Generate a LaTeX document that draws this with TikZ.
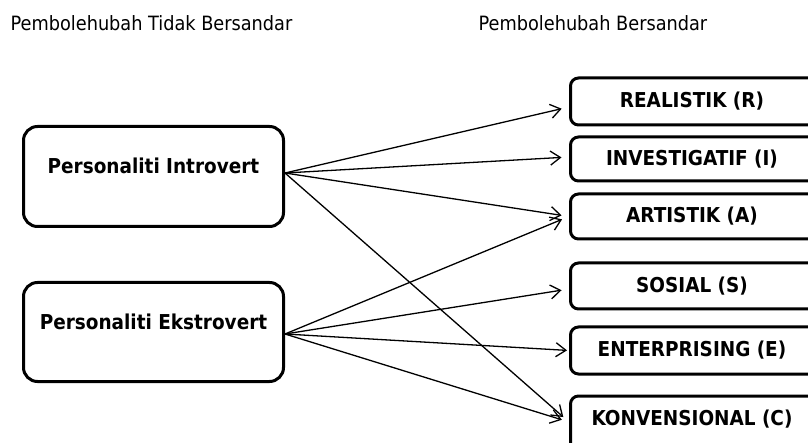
\documentclass[tikz,border=0pt]{standalone}
\usepackage{fontspec}
\setmainfont{DejaVu Sans Condensed}
\usetikzlibrary{arrows.meta}
\begin{document}
\begin{tikzpicture}[x=1pt,y=-1pt,
  lbox/.style={draw, line width=3pt, rounded corners=14pt, minimum width=260pt, minimum height=100pt, inner sep=0pt},
  rbox/.style={draw, line width=3pt, rounded corners=8pt, minimum width=270pt, minimum height=46pt, inner sep=0pt,
    font=\fontsize{20.5}{24}\selectfont\bfseries, text height=14.9pt, text depth=2pt},
  ltext/.style={font=\fontsize{20.5}{24}\selectfont\bfseries, inner sep=0pt, text height=14.9pt, text depth=0pt},
  head/.style={font=\fontsize{19.7}{24}\selectfont, inner sep=0pt, anchor=base west},
  conn/.style={line width=1.3pt, -{Straight Barb[length=10pt,width=14pt,line width=1.3pt]}, shorten >=7.5pt}
]
\newcommand\rtxt[1]{\hspace*{-27pt}#1}
\useasboundingbox (0,0) rectangle (808,443);
\clip (0,0) rectangle (808,443);
\fill[white] (0,0) rectangle (808,443);

\node[head] (h1) at (10.5,30.5) {Pembolehubah Tidak Bersandar};
\node[head] (h2) at (478.5,30.5) {Pembolehubah Bersandar};

\node[lbox] (intro) at (153.5,176.5) {};
\node[ltext] (introT) at ([yshift=10.5pt]intro.center) {Personaliti Introvert};
\node[lbox, minimum height=99pt] (ekstro) at (153.5,332) {};
\node[ltext] (ekstroT) at ([yshift=10pt]ekstro.center) {Personaliti Ekstrovert};

\node[rbox, minimum height=47pt] (R) at (705.5,101.5) {\rtxt{REALISTIK (R)}};
\node[rbox, minimum height=44pt] (I) at (705.5,159) {\rtxt{INVESTIGATIF (I)}};
\node[rbox, minimum height=45pt] (A) at (705.5,216.5) {\rtxt{ARTISTIK (A)}};
\node[rbox] (S) at (705.5,286) {\rtxt{SOSIAL (S)}};
\node[rbox, minimum height=47pt] (E) at (705.5,350.5) {\rtxt{ENTERPRISING (E)}};
\node[rbox, minimum height=64pt, text depth=20pt] (C) at (705.5,428) {\rtxt{KONVENSIONAL (C)}};

\coordinate (iO) at ([yshift=3.5pt]intro.east);
\coordinate (eO) at ([yshift=-2pt]ekstro.east);
\coordinate (cIn) at (C.west |- 0,422);

\draw[conn] (iO) -- ([yshift=-5.5pt]R.west);
\draw[conn] (iO) -- ([yshift=2pt]I.west);
\draw[conn] (iO) -- (A.west);
\draw[conn] (iO) -- (cIn);

\draw[conn] (eO) -- (A.west);
\draw[conn] (eO) -- ([yshift=-3pt]S.west);
\draw[conn, shorten >=2pt] (eO) -- (E.west);
\draw[conn] (eO) -- (cIn);
\end{tikzpicture}
\end{document}
